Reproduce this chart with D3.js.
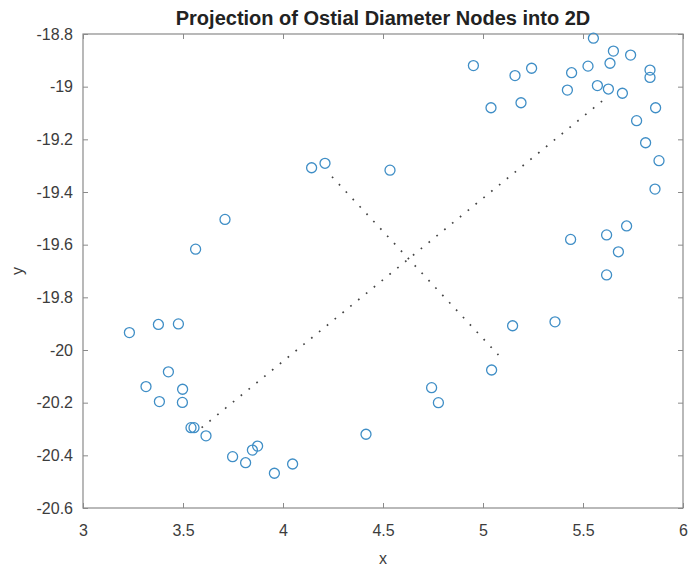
<!DOCTYPE html>
<html>
<head>
<meta charset="utf-8">
<script src="https://cdn.jsdelivr.net/npm/d3@7"></script>
<style>
  html, body { margin: 0; padding: 0; background: #fff; }
  svg { display: block; }
  text { font-family: "Liberation Sans", Arial, Helvetica, sans-serif; }
</style>
</head>
<body>
<svg id="chart" width="689" height="569"></svg>
<script>
// Projected node coordinates
const nodeX = [
  4.143, 4.210, 3.710, 3.563, 4.535,
  5.552, 5.652, 5.738, 5.635, 5.525, 5.443, 5.835, 5.835,
  4.952, 5.160, 5.243, 5.422, 5.572, 5.627, 5.697,
  5.040, 5.190, 5.863, 5.768, 5.813, 5.880, 5.860,
  5.438, 5.618, 5.718, 5.677, 5.618,
  5.148, 5.360, 5.043, 4.743, 4.777,
  3.232, 3.377, 3.477, 3.427, 3.315, 3.498, 3.382, 3.497,
  3.540, 3.555, 3.615, 3.748, 3.813, 3.847, 3.873, 3.957, 4.048, 4.415
];
const nodeY = [
  -19.308, -19.291, -19.504, -19.617, -19.317,
  -18.816, -18.865, -18.880, -18.911, -18.922, -18.947, -18.937, -18.965,
  -18.920, -18.958, -18.930, -19.013, -18.996, -19.009, -19.025,
  -19.080, -19.061, -19.080, -19.129, -19.213, -19.281, -19.389,
  -19.580, -19.563, -19.529, -19.627, -19.715,
  -19.908, -19.893, -20.076, -20.143, -20.200,
  -19.934, -19.903, -19.901, -20.083, -20.139, -20.149, -20.196, -20.199,
  -20.295, -20.295, -20.326, -20.405, -20.428, -20.380, -20.365, -20.468, -20.433, -20.320
];

// Principal direction segments (dotted)
const axisMajor = [[3.593, -20.295], [5.600, -19.052]];
const axisMinor = [[4.245, -19.342], [5.077, -20.019]];

// Axis ticks
const xTicks = [3, 3.5, 4, 4.5, 5, 5.5, 6];
const yTicks = [-18.8, -19, -19.2, -19.4, -19.6, -19.8, -20, -20.2, -20.4, -20.6];

const titleText = "Projection of Ostial Diameter Nodes into 2D";

const margin = { left: 83, right: 6, top: 34, bottom: 61 };
const W = 689, H = 569;
const svg = d3.select("#chart");

const x = d3.scaleLinear().domain([3, 6]).range([margin.left, W - margin.right]);
const y = d3.scaleLinear().domain([-20.6, -18.8]).range([H - margin.bottom, margin.top]);

const axisColor = "#8a8a8a";
const labelColor = "#3c3c3c";
const tickLen = 5;
const plainNum = d => String(d);   // hyphen-minus, as in the original figure

function styleAxis(g) {
  g.select(".domain").remove();
  g.selectAll(".tick line").attr("stroke", axisColor).attr("stroke-width", 1);
  g.selectAll(".tick text").attr("fill", labelColor).attr("font-size", 16);
}

// Bottom axis with labels
svg.append("g")
  .attr("transform", `translate(0,${y(-20.6)})`)
  .call(d3.axisBottom(x).tickValues(xTicks).tickFormat(plainNum).tickSizeInner(-tickLen).tickSizeOuter(0).tickPadding(17))
  .call(styleAxis);

// Top axis, ticks only
svg.append("g")
  .attr("transform", `translate(0,${y(-18.8)})`)
  .call(d3.axisTop(x).tickValues(xTicks).tickFormat("").tickSizeInner(-tickLen).tickSizeOuter(0))
  .call(styleAxis);

// Left axis with labels
svg.append("g")
  .attr("transform", `translate(${x(3)},0)`)
  .call(d3.axisLeft(y).tickValues(yTicks).tickFormat(plainNum).tickSizeInner(-tickLen).tickSizeOuter(0).tickPadding(10))
  .call(styleAxis);

// Right axis, ticks only
svg.append("g")
  .attr("transform", `translate(${x(6)},0)`)
  .call(d3.axisRight(y).tickValues(yTicks).tickFormat("").tickSizeInner(-tickLen).tickSizeOuter(0))
  .call(styleAxis);

// Axes box
svg.append("rect")
  .attr("x", x(3)).attr("y", y(-18.8))
  .attr("width", x(6) - x(3)).attr("height", y(-20.6) - y(-18.8))
  .attr("fill", "none").attr("stroke", axisColor).attr("stroke-width", 1.2);

// Dotted direction lines
const line = d3.line().x(d => x(d[0])).y(d => y(d[1]));
[axisMajor, axisMinor].forEach(seg => {
  svg.append("path")
    .attr("d", line(seg))
    .attr("fill", "none")
    .attr("stroke", "#444")
    .attr("stroke-width", 1.7)
    .attr("stroke-dasharray", "1.7,8.4");
});

// Node markers
svg.append("g")
  .selectAll("circle")
  .data(nodeX.map((v, i) => [v, nodeY[i]]))
  .join("circle")
  .attr("cx", d => x(d[0]))
  .attr("cy", d => y(d[1]))
  .attr("r", 5)
  .attr("fill", "none")
  .attr("stroke", "#3f8ec6")
  .attr("stroke-width", 1.3);

// Title
svg.append("text")
  .attr("x", (x(3) + x(6)) / 2)
  .attr("y", 25)
  .attr("text-anchor", "middle")
  .attr("font-size", 20)
  .attr("font-weight", "bold")
  .attr("fill", "#222")
  .text(titleText);

// Axis labels
svg.append("text")
  .attr("x", (x(3) + x(6)) / 2)
  .attr("y", 564)
  .attr("text-anchor", "middle")
  .attr("font-size", 16)
  .attr("fill", labelColor)
  .text("x");

svg.append("text")
  .attr("transform", `translate(23,${(y(-18.8) + y(-20.6)) / 2}) rotate(-90)`)
  .attr("text-anchor", "middle")
  .attr("font-size", 16)
  .attr("fill", labelColor)
  .text("y");
</script>
</body>
</html>
